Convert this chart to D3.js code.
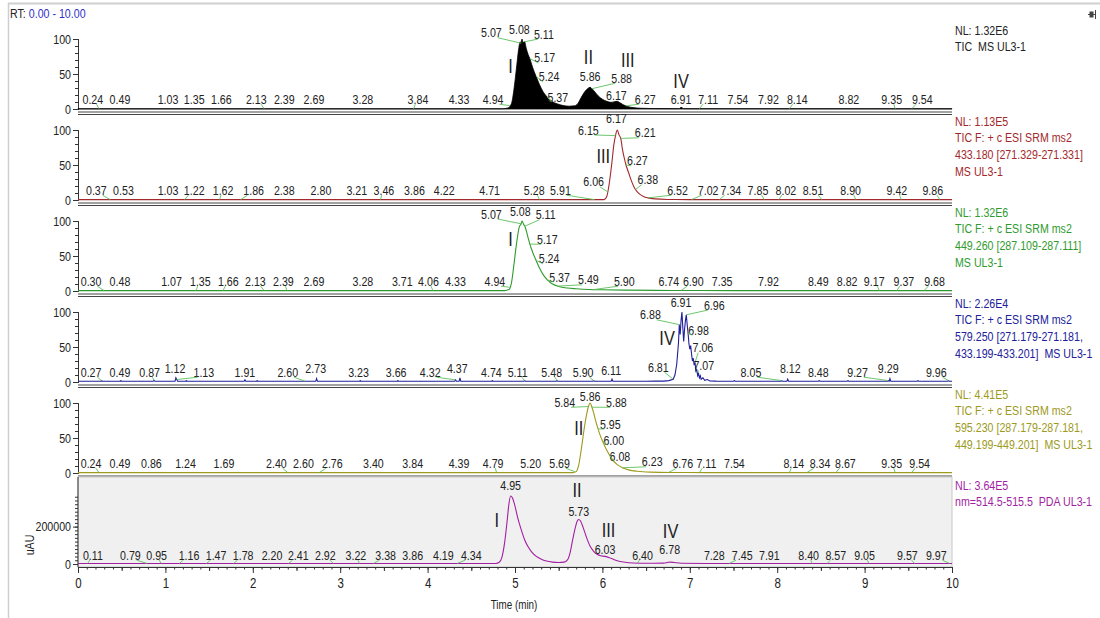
<!DOCTYPE html>
<meta charset="utf-8">
<head>
<script src="https://d3js.org/d3.v7.min.js"></script>
<style>
body { margin: 0; background: #fff; }
svg text { font-family: "Liberation Sans", Arial, sans-serif; white-space: pre; }
</style>
</head>
<body>
<svg id="chart"></svg>
<script>
// ---- traces: [time (min), relative abundance %] ----
var ticTrace = [[0,0.4],[4.86,0.4],[4.92,1.5],[4.96,8],[4.99,30],[5.02,62],[5.04,84],[5.06,96],[5.07,94],[5.08,100],[5.09,95],[5.11,96],[5.13,86],[5.15,78],[5.17,72],[5.2,60],[5.24,47],[5.28,35],[5.32,25],[5.37,17],[5.42,11],[5.48,7.5],[5.55,5],[5.62,4],[5.68,4.5],[5.72,8],[5.76,17],[5.8,25],[5.83,29],[5.86,31],[5.88,29],[5.91,25],[5.95,19],[6.0,14],[6.05,11],[6.1,9.5],[6.14,10.5],[6.17,11],[6.2,9],[6.24,6],[6.29,3.5],[6.35,2],[6.45,1],[6.6,0.6],[6.88,0.5],[6.9,2.5],[6.93,0.5],[10,0.4]];
var srm433Trace = [[0,0.5],[6.02,0.5],[6.05,5],[6.08,25],[6.11,55],[6.13,78],[6.15,92],[6.17,100],[6.19,93],[6.21,88],[6.23,72],[6.25,60],[6.27,50],[6.3,39],[6.33,28],[6.36,19],[6.39,13],[6.43,8],[6.47,5],[6.52,3],[6.6,1.6],[6.75,0.8],[7,0.6],[10,0.5]];
var srm449Trace = [[0,0.5],[4.88,0.5],[4.93,2],[4.96,12],[4.99,40],[5.02,70],[5.05,92],[5.07,96],[5.08,100],[5.1,95],[5.12,90],[5.15,76],[5.17,67],[5.2,56],[5.24,44],[5.28,33],[5.33,22],[5.37,16],[5.43,10],[5.5,6.5],[5.6,4.2],[5.7,3.2],[5.85,2.2],[6.0,1.7],[6.3,1.2],[6.8,0.8],[7.5,0.6],[10,0.5]];
var srm579Trace = [[0,1],[0.26,1],[0.27,2],[0.28,1],[0.48,1],[0.49,2],[0.5,1],[0.86,1],[0.87,2.5],[0.88,1],[1.11,1],[1.12,6],[1.13,3.5],[1.14,1],[1.23,1],[1.24,2],[1.25,1],[1.9,1],[1.91,3],[1.92,1],[2.04,1],[2.05,2],[2.06,1],[2.72,1],[2.73,5],[2.74,1],[3.22,1],[3.23,2],[3.24,1],[3.65,1],[3.66,2],[3.67,1],[4.31,1],[4.32,3],[4.33,1],[4.36,1],[4.37,6],[4.38,1],[4.73,1],[4.74,2],[4.75,1],[5.1,1],[5.11,2],[5.12,1],[5.47,1],[5.48,2],[5.49,1],[5.89,1],[5.9,2],[5.91,1],[6.1,1],[6.11,4],[6.12,1],[6.5,1],[6.6,1.5],[6.7,1.2],[6.76,2],[6.81,4],[6.83,10],[6.85,25],[6.87,55],[6.88,82],[6.89,68],[6.9,88],[6.91,100],[6.92,78],[6.93,58],[6.94,75],[6.95,88],[6.96,96],[6.97,82],[6.98,70],[6.99,55],[7.0,47],[7.01,52],[7.02,40],[7.03,30],[7.04,34],[7.05,24],[7.06,28],[7.07,14],[7.08,18],[7.09,9],[7.1,12],[7.11,6],[7.12,9],[7.13,4],[7.15,6],[7.17,2.5],[7.2,3.5],[7.23,1.5],[7.3,1.2],[7.5,1],[7.51,2],[7.52,1],[8.04,1],[8.05,2],[8.06,1],[8.11,1],[8.12,4],[8.13,1],[8.47,1],[8.48,2],[8.49,1],[8.8,1],[8.81,1.8],[8.82,1],[9.26,1],[9.27,2],[9.28,1],[9.29,5],[9.3,1],[9.6,1],[9.61,1.8],[9.62,1],[9.95,1],[9.96,2],[9.97,1],[10,1]];
var srm595Trace = [[0,0.5],[5.66,0.5],[5.7,2],[5.73,12],[5.76,35],[5.79,62],[5.82,84],[5.84,95],[5.86,100],[5.88,94],[5.9,86],[5.92,76],[5.95,63],[5.98,52],[6.0,46],[6.04,35],[6.08,26],[6.12,18],[6.17,12],[6.23,7.5],[6.3,4.5],[6.4,2.5],[6.55,1.3],[6.8,0.8],[7.2,0.6],[10,0.5]];
// PDA trace in uAU
var pdaTrace = [[0,3000],[4.78,3000],[4.82,9000],[4.85,35000],[4.88,110000],[4.91,230000],[4.93,320000],[4.95,364000],[4.97,355000],[5.0,310000],[5.03,250000],[5.07,185000],[5.11,130000],[5.15,92000],[5.19,65000],[5.24,42000],[5.3,26000],[5.36,16000],[5.43,10000],[5.5,8000],[5.56,10000],[5.6,22000],[5.63,60000],[5.66,130000],[5.69,195000],[5.71,228000],[5.73,238000],[5.75,230000],[5.78,195000],[5.82,140000],[5.86,95000],[5.9,68000],[5.94,52000],[5.98,44000],[6.03,41000],[6.08,34000],[6.13,24000],[6.19,15000],[6.26,9000],[6.35,5500],[6.5,4000],[6.7,4500],[6.75,8500],[6.78,10000],[6.82,8000],[6.9,4000],[7.2,3000],[10,3000]];

// ---- peak labels: [RT text, label centre (min), label level (% of NL)] ----
var ticLabels = [["0.24",0.17,14],["0.49",0.48,14],["1.03",1.03,14],["1.35",1.33,14],["1.66",1.64,14],["2.13",2.04,14],["2.39",2.36,14],["2.69",2.70,14],["3.28",3.26,14],["3.84",3.89,14],["4.33",4.36,14],["4.94",4.75,14],["5.07",4.73,109],["5.08",5.05,113],["5.11",5.33,107],["5.17",5.34,73],["5.24",5.39,46],["5.37",5.49,17],["5.86",5.86,47],["5.88",6.22,44],["6.17",6.16,19],["6.27",6.49,14],["6.91",6.90,14],["7.11",7.21,14],["7.54",7.55,14],["7.92",7.90,14],["8.14",8.23,14],["8.82",8.82,14],["9.35",9.31,14],["9.54",9.66,14]];
var srm433Labels = [["0.37",0.21,14],["0.53",0.52,14],["1.03",1.03,14],["1.22",1.33,14],["1.62",1.66,14],["1.86",2.01,14],["2.38",2.36,14],["2.80",2.78,14],["3.21",3.19,14],["3.46",3.50,14],["3.86",3.85,14],["4.22",4.19,14],["4.71",4.71,14],["5.28",5.22,14],["5.91",5.52,14],["6.06",5.90,26],["6.15",5.84,100],["6.17",6.16,116],["6.21",6.49,96],["6.27",6.40,56],["6.38",6.52,29],["6.52",6.86,14],["7.02",7.21,14],["7.34",7.47,14],["7.85",7.78,14],["8.02",8.10,14],["8.51",8.41,14],["8.90",8.84,14],["9.42",9.37,14],["9.86",9.78,14]];
var srm449Labels = [["0.30",0.15,14],["0.48",0.48,14],["1.07",1.07,14],["1.35",1.40,14],["1.66",1.72,14],["2.13",2.03,14],["2.39",2.35,14],["2.69",2.70,14],["3.28",3.26,14],["3.71",3.71,14],["4.06",4.01,14],["4.33",4.32,14],["4.94",4.77,14],["5.07",4.73,110],["5.08",5.06,114],["5.11",5.35,109],["5.17",5.37,74],["5.24",5.39,46],["5.37",5.51,20],["5.49",5.84,16],["5.90",6.25,14],["6.74",6.76,14],["6.90",7.04,14],["7.35",7.37,14],["7.92",7.90,14],["8.49",8.47,14],["8.82",8.80,14],["9.17",9.11,14],["9.37",9.45,14],["9.68",9.80,14]];
var srm579Labels = [["0.27",0.15,14],["0.49",0.48,14],["0.87",0.82,14],["1.12",1.11,20],["1.13",1.44,14],["1.91",1.91,14],["2.60",2.40,14],["2.73",2.72,20],["3.23",3.21,14],["3.66",3.64,14],["4.32",4.03,14],["4.37",4.34,20],["4.74",4.73,14],["5.11",5.03,14],["5.48",5.42,14],["5.90",5.78,14],["6.11",6.10,17],["6.81",6.64,21],["6.88",6.55,96],["6.91",6.90,114],["6.96",7.28,110],["6.98",7.10,74],["7.06",7.15,49],["7.07",7.16,23],["8.05",7.70,14],["8.12",8.15,20],["8.48",8.47,14],["9.27",8.92,14],["9.29",9.27,20],["9.96",9.82,14]];
var srm595Labels = [["0.24",0.15,14],["0.49",0.48,14],["0.86",0.84,14],["1.24",1.23,14],["1.69",1.67,14],["2.40",2.27,14],["2.60",2.58,14],["2.76",2.91,14],["3.40",3.38,14],["3.84",3.83,14],["4.39",4.36,14],["4.79",4.75,14],["5.20",5.18,14],["5.69",5.51,14],["5.84",5.57,101],["5.86",5.86,109],["5.88",6.16,101],["5.95",6.09,70],["6.00",6.13,47],["6.08",6.20,24],["6.23",6.57,16],["6.76",6.92,14],["7.11",7.19,14],["7.54",7.51,14],["8.14",8.19,14],["8.34",8.49,14],["8.67",8.78,14],["9.35",9.31,14],["9.54",9.63,14]];
var pdaLabels = [["0.11",0.17,13],["0.79",0.60,13],["0.95",0.90,13],["1.16",1.27,13],["1.47",1.58,13],["1.78",1.89,13],["2.20",2.22,13],["2.41",2.52,13],["2.92",2.83,13],["3.22",3.18,13],["3.38",3.52,13],["3.86",3.83,13],["4.19",4.18,13],["4.34",4.50,13],["4.95",4.95,116],["5.73",5.73,78],["6.03",6.03,22],["6.40",6.46,13],["6.78",6.77,21],["7.28",7.28,13],["7.45",7.60,13],["7.91",7.91,13],["8.40",8.36,13],["8.57",8.67,13],["9.05",9.00,13],["9.57",9.49,13],["9.97",9.82,13]];

// ---- compound numerals: [text, centre (min), level %] ----
var ticRomans = [["I",4.95,61],["II",5.84,74],["III",6.29,70],["IV",6.90,40]];
var srm433Romans = [["III",6.01,63]];
var srm449Romans = [["I",4.95,74]];
var srm579Romans = [["IV",6.74,63]];
var srm595Romans = [["II",5.73,64]];
var pdaRomans = [["I",4.79,65],["II",5.71,109],["III",6.07,50],["IV",6.78,49]];

// ---- trace headers ----
var ticInfo = ["NL: 1.32E6", "TIC  MS UL3-1"];
var srm433Info = ["NL: 1.13E5", "TIC F: + c ESI SRM ms2", "433.180 [271.329-271.331]", "MS UL3-1"];
var srm449Info = ["NL: 1.32E6", "TIC F: + c ESI SRM ms2", "449.260 [287.109-287.111]", "MS UL3-1"];
var srm579Info = ["NL: 2.26E4", "TIC F: + c ESI SRM ms2", "579.250 [271.179-271.181,", "433.199-433.201]  MS UL3-1"];
var srm595Info = ["NL: 4.41E5", "TIC F: + c ESI SRM ms2", "595.230 [287.179-287.181,", "449.199-449.201]  MS UL3-1"];
var pdaInfo = ["NL: 3.64E5", "nm=514.5-515.5  PDA UL3-1"];
var pdaNL = 364000;

var NARROW = 0.82; // squeeze to mimic Arial Narrow

var svg = d3.select("#chart").attr("width", 1100).attr("height", 618);

function addText(g, x, y, s, size, fill, anchor) {
  return g.append("text")
    .attr("transform", "translate(" + x + "," + y + ") scale(" + NARROW + ",1)")
    .attr("dy", "0.35em")
    .attr("text-anchor", anchor || "start")
    .attr("font-size", size)
    .attr("fill", fill)
    .text(s);
}

// window frame
svg.append("line").attr("x1",8).attr("x2",1100).attr("y1",3.5).attr("y2",3.5).attr("stroke","#cfcfcf").attr("stroke-width",2);
svg.append("line").attr("x1",8.5).attr("x2",8.5).attr("y1",3).attr("y2",618).attr("stroke","#cfcfcf").attr("stroke-width",1.5);
// pin icon
var pin = svg.append("g").attr("stroke","#444").attr("fill","none");
pin.append("line").attr("x1",1088).attr("x2",1095).attr("y1",14.5).attr("y2",14.5);
pin.append("line").attr("x1",1095.5).attr("x2",1095.5).attr("y1",10).attr("y2",19);
pin.append("rect").attr("x",1090).attr("y",12).attr("width",3).attr("height",5).attr("fill","#444");

var rt = addText(svg, 10, 13, "", 13, "#222");
rt.append("tspan").attr("fill","#222").text("RT: ");
rt.append("tspan").attr("fill","#3030c8").text("0.00 - 10.00");

var x = d3.scaleLinear().domain([0,10]).range([78,952]);

var panels = [
  {trace: ticTrace, labels: ticLabels, romans: ticRomans, info: ticInfo, color: "#000", text: "#222", fill: true, zero: 109},
  {trace: srm433Trace, labels: srm433Labels, romans: srm433Romans, info: srm433Info, color: "#a3282b", text: "#a3282b", zero: 200},
  {trace: srm449Trace, labels: srm449Labels, romans: srm449Romans, info: srm449Info, color: "#2f9b2f", text: "#2f9b2f", zero: 291},
  {trace: srm579Trace, labels: srm579Labels, romans: srm579Romans, info: srm579Info, color: "#20209a", text: "#20209a", linear: true, zero: 382},
  {trace: srm595Trace, labels: srm595Labels, romans: srm595Romans, info: srm595Info, color: "#9d9a1e", text: "#9d9a1e", zero: 473},
  {trace: pdaTrace, labels: pdaLabels, romans: pdaRomans, info: pdaInfo, color: "#a21ea2", text: "#a21ea2", zero: 564, pda: true}
];

function valueAt(tr, t) {
  var i = d3.bisector(function(d){ return d[0]; }).left(tr, t);
  if (i <= 0) return tr[0][1];
  if (i >= tr.length) return tr[tr.length-1][1];
  var a = tr[i-1], b = tr[i];
  return a[1] + (b[1]-a[1]) * (t-a[0]) / (b[0]-a[0]);
}

// squeeze axis tick labels the same way
function narrowTicks(sel, dx) {
  sel.selectAll(".tick text").each(function() {
    var t = d3.select(this);
    var xx = +t.attr("x") || 0, yy = +t.attr("y") || 0;
    t.attr("x", null).attr("y", null)
      .attr("transform", "translate(" + (xx + (dx||0)) + "," + yy + ") scale(" + NARROW + ",1)")
      .attr("font-size", 13).attr("fill", "#222");
  });
}

panels.forEach(function(p) {
  var g = svg.append("g");
  var yPct = d3.scaleLinear().domain([0,100]).range([p.zero, p.zero - (p.pda ? 68 : 70)]);
  var yData = p.pda ? d3.scaleLinear().domain([0,pdaNL]).range(yPct.range()) : yPct;

  if (p.pda) {
    g.append("rect").attr("x",78).attr("y",477).attr("width",874).attr("height",p.zero + 3 - 477)
      .attr("fill","#f0f0f0").attr("stroke","#c8c8c8");
    var ya = d3.axisLeft(yData).tickValues([0,200000]).tickFormat(d3.format("d")).tickSize(5).tickPadding(2);
    var yMinor = d3.axisLeft(yData).tickValues(d3.range(0,370000,20000)).tickFormat("").tickSize(3);
    g.append("g").attr("transform","translate(78,0)").call(yMinor).call(function(s){ s.select(".domain").remove(); });
    var ay = g.append("g").attr("transform","translate(78,0)").call(ya);
    ay.select(".domain").remove();
    narrowTicks(ay);
    g.append("line").attr("x1",78).attr("x2",78).attr("y1",477).attr("y2",p.zero+3).attr("stroke","#333");
    g.append("text").attr("transform","translate(29,545) rotate(-90) scale(" + NARROW + ",1)").attr("text-anchor","middle")
      .attr("dy","0.35em").attr("font-size",13).attr("fill","#222").text("uAU");
  } else {
    var ya = d3.axisLeft(yPct).tickValues([0,50,100]).tickSize(5).tickPadding(2);
    var yMinor = d3.axisLeft(yPct).tickValues(d3.range(0,101,10)).tickFormat("").tickSize(3);
    g.append("g").attr("transform","translate(78,0)").call(yMinor);
    var ay = g.append("g").attr("transform","translate(78,0)").call(ya);
    narrowTicks(ay);
    // double base line
    g.append("line").attr("x1",78).attr("x2",952).attr("y1",p.zero+3).attr("y2",p.zero+3).attr("stroke","#444");
    g.append("line").attr("x1",78).attr("x2",952).attr("y1",p.zero+5.5).attr("y2",p.zero+5.5).attr("stroke","#444");
  }
  g.selectAll(".tick line, .domain").attr("stroke","#333");

  // trace
  if (p.fill) {
    var area = d3.area().x(function(d){ return x(d[0]); }).y0(p.zero).y1(function(d){ return yData(d[1]); }).curve(d3.curveMonotoneX);
    g.append("path").datum(p.trace).attr("d",area).attr("fill",p.color).attr("stroke",p.color).attr("stroke-width",0.8);
  } else {
    var line = d3.line().x(function(d){ return x(d[0]); }).y(function(d){ return yData(d[1]); })
      .curve(p.linear ? d3.curveLinear : d3.curveMonotoneX);
    g.append("path").datum(p.trace).attr("d",line).attr("fill","none").attr("stroke",p.color).attr("stroke-width",1.1);
  }

  // peak labels with leaders
  p.labels.forEach(function(l) {
    var t = +l[0], cx = x(l[1]), cy = yPct(l[2]);
    var txt = addText(g, cx, cy, l[0], 13, "#222", "middle");
    var w = txt.node().getComputedTextLength() * NARROW;
    var tx = x(t), ty = yData(valueAt(p.trace, t));
    var dx = tx - cx;
    if (Math.abs(dx) > 3) {
      var sx = cx + Math.max(-w/2, Math.min(w/2, dx)) * 0.6;
      g.append("line").attr("x1",sx).attr("y1",cy+5).attr("x2",tx).attr("y2",ty)
        .attr("stroke","#5cc05c").attr("stroke-width",0.9);
    }
  });

  p.romans.forEach(function(r) {
    addText(g, x(r[1]), yPct(r[2]), r[0], 20, "#222", "middle");
  });

  p.info.forEach(function(s, k) {
    addText(g, 955, p.zero - 79 + 16.8*k, s, 13, p.text);
  });
});

// time axis
svg.append("g").attr("transform","translate(0,567)")
  .call(d3.axisBottom(x).tickValues(d3.range(0,10.01,0.1)).tickFormat("").tickSize(2.5))
  .call(function(s){ s.select(".domain").remove(); });
svg.append("g").attr("transform","translate(0,567)")
  .call(d3.axisBottom(x).tickValues(d3.range(0.5,10,1)).tickFormat("").tickSize(4))
  .call(function(s){ s.select(".domain").remove(); });
var xa = svg.append("g").attr("transform","translate(0,567)")
  .call(d3.axisBottom(x).tickValues(d3.range(0,11,1)).tickFormat(d3.format("d")).tickSize(6).tickPadding(5));
svg.selectAll(".tick line, .domain").attr("stroke","#333");
xa.selectAll(".tick text").each(function() {
  var t = d3.select(this);
  var yy = +t.attr("y");
  t.attr("y", null).attr("dy", "0.71em")
    .attr("transform", "translate(0," + yy + ") scale(" + NARROW + ",1)")
    .attr("font-size", 14).attr("fill", "#222");
});
addText(svg, 514, 605, "Time (min)", 12, "#222", "middle");
</script>
</body>
</html>
